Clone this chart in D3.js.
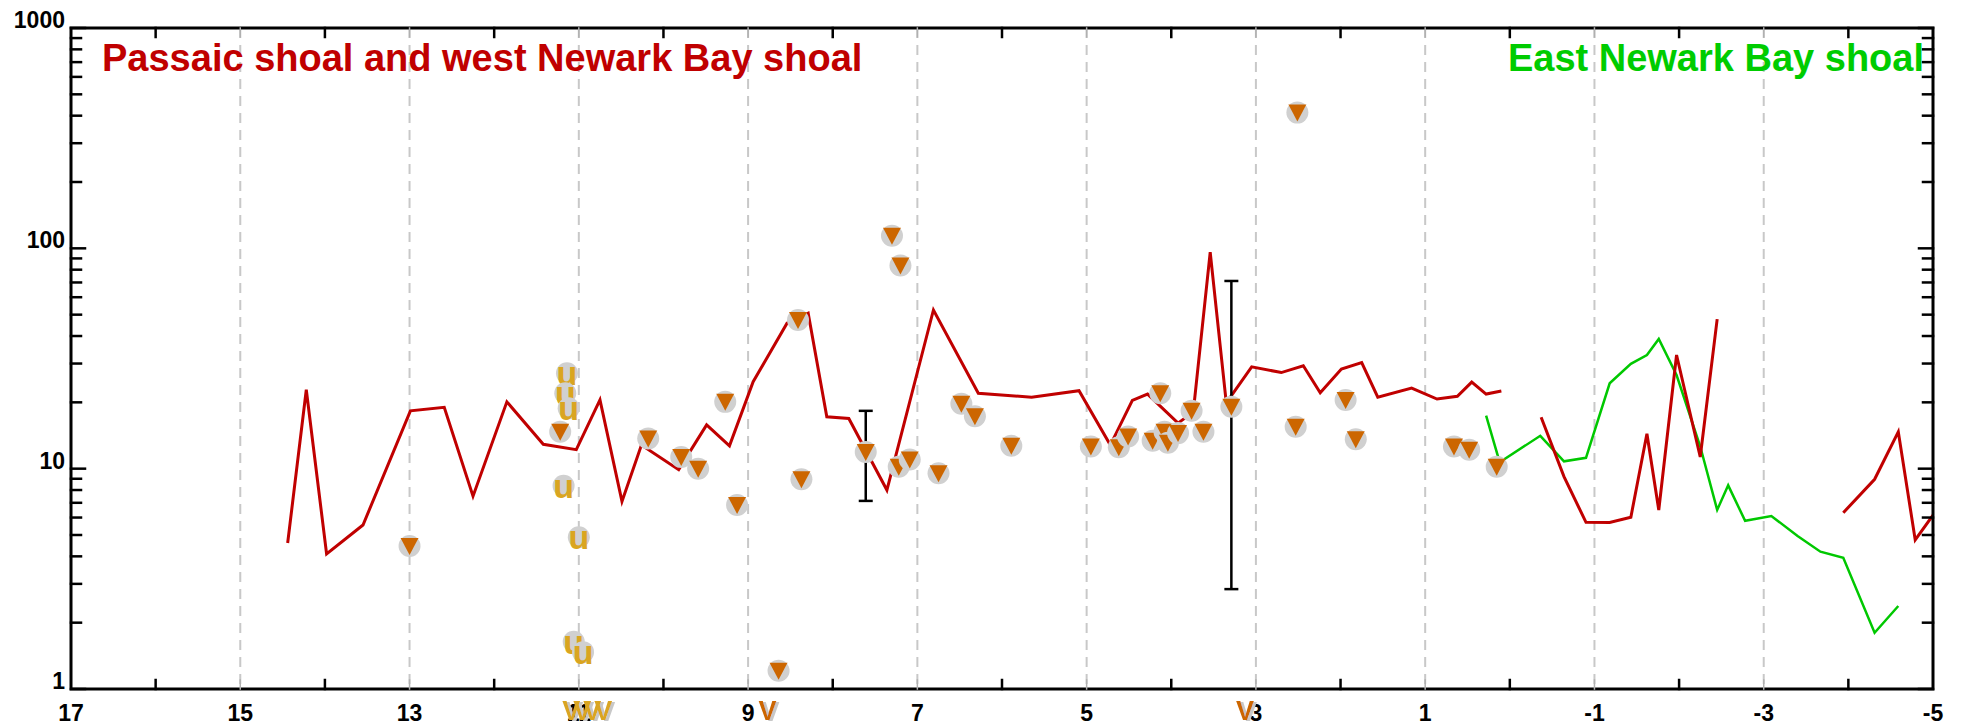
<!DOCTYPE html>
<html>
<head>
<meta charset="utf-8">
<script src="https://cdn.jsdelivr.net/npm/d3@7"></script>
<style>
  body { margin: 0; background: #fff; }
  text { font-family: "Liberation Sans", Arial, sans-serif; font-weight: bold; }
</style>
</head>
<body>
<svg id="chart" width="1962" height="728"></svg>
<script>
// River mile axis runs from 17 (upstream) to -5.
var X_TICK_LABELS = [17, 15, 13, 11, 9, 7, 5, 3, 1, -1, -3, -5];
var GRID_MILES    = [15, 13, 11, 9, 7, 5, 3, 1, -1, -3];
var Y_TICK_LABELS = [1, 10, 100, 1000];

// Passaic shoal and west Newark Bay shoal (null = gap in the line)
var redMiles  = [14.44, 14.22, 13.98, 13.55, 12.99, 12.59, 12.25, 11.85, 11.42, 11.03,
                 10.75, 10.49, 10.26, 9.82, 9.49, 9.22, 8.94, 8.54, 8.29, 8.07,
                 7.81, 7.36, 6.81, 6.28, 5.65, 5.09, 4.72, 4.46, 4.28, 3.92,
                 3.74, 3.54, 3.35, 3.05, 2.70, 2.44, 2.24, 1.99, 1.75, 1.56,
                 1.16, 0.86, 0.62, 0.45, 0.28, 0.10, -0.1,
                 -0.37, -0.64, -0.90, -1.18, -1.43, -1.62, -1.76, -1.97, -2.25, -2.45, -3.0,
                 -3.94, -4.31, -4.59, -4.79, -5.0];
var redValues = [4.6, 22.8, 4.1, 5.55, 18.3, 19.0, 7.5, 20.1, 12.9, 12.2,
                 20.5, 7.1, 12.8, 9.9, 15.8, 12.7, 24.8, 45.7, 50.8, 17.2,
                 16.9, 8.0, 52.5, 22.0, 21.1, 22.6, 12.8, 20.4, 21.8, 16.1,
                 18.1, 96, 19.9, 29.0, 27.3, 29.3, 22.1, 28.3, 30.3, 21.1,
                 23.2, 20.7, 21.3, 24.7, 21.8, 22.5, null,
                 17.1, 9.2, 5.71, 5.70, 6.02, 14.4, 6.49, 32.8, 11.3, 47.7, null,
                 6.31, 8.95, 14.7, 4.75, 6.15];

// East Newark Bay shoal
var greenMiles  = [0.28, 0.12, -0.36, -0.64, -0.90, -1.18, -1.43, -1.62, -1.76, -1.97,
                   -2.25, -2.45, -2.58, -2.78, -3.09, -3.40, -3.67, -3.94, -4.31, -4.59];
var greenValues = [17.4, 10.7, 14.1, 10.8, 11.2, 24.4, 29.9, 32.8, 38.8, 26.6,
                   12.6, 6.5, 8.4, 5.8, 6.1, 4.95, 4.2, 3.94, 1.80, 2.38];

// Detected samples (orange triangles)
var detectMiles  = [13.0, 11.22, 10.18, 9.79, 9.59, 9.27, 9.13, 8.64, 8.41, 8.37,
                    7.61, 7.30, 7.20, 7.22, 7.09, 6.75, 6.48, 6.32, 5.89, 4.95,
                    4.62, 4.51, 4.22, 4.13, 4.08, 4.04, 3.92, 3.76, 3.62, 3.29,
                    2.53, 2.51, 1.94, 1.82, 0.66, 0.48, 0.155];
var detectValues = [4.46, 14.7, 13.7, 11.3, 10.0, 20.1, 6.84, 1.21, 47.3, 8.95,
                    11.9, 114, 83.5, 10.2, 11.0, 9.53, 19.7, 17.3, 12.7, 12.6,
                    12.5, 14.0, 13.4, 22.0, 14.7, 13.1, 14.5, 18.3, 14.7, 19.1,
                    15.5, 413, 20.5, 13.6, 12.6, 12.2, 10.2];

// Error bars (low / high) on two of the detects
var errMiles = [7.61, 3.29];
var errLow   = [7.14, 2.84];
var errHigh  = [18.3, 71.1];

// Non-detects ("u")
var ndMiles  = [11.14, 11.16, 11.12, 11.18, 11.00, 11.06, 10.95];
var ndValues = [27.1, 22.0, 18.8, 8.37, 4.88, 1.64, 1.47];

// Values below the axis floor, flagged with a "V" under the axis
var lowNdMiles     = [11.09, 10.96, 10.84, 10.71];
var lowDetectMiles = [8.77, 3.13];

var RED   = "#c00000";
var GREEN = "#00c800";
var ORANGE = "#cc6600";
var GOLD  = "#daa520";
var MARK_GRAY = "#d0d0d0";

var W = 1962, H = 728;
var margin = { left: 71, right: 29, top: 28, bottom: 39 };

var svg = d3.select("#chart");

var x = d3.scaleLinear().domain([17, -5]).range([margin.left, W - margin.right]);
var y = d3.scaleLog().domain([1, 1000]).range([H - margin.bottom, margin.top]);

var x0 = x.range()[0], x1 = x.range()[1];
var y0 = y.range()[0], y1 = y.range()[1];

var defs = svg.append("defs");
defs.append("clipPath").attr("id", "plot-clip")
    .append("rect")
    .attr("x", x0).attr("y", y1)
    .attr("width", x1 - x0).attr("height", y0 - y1);

// Gray shadow behind the "V" flags
var shadow = defs.append("filter").attr("id", "flag-shadow")
                 .attr("x", "-20%").attr("y", "-20%")
                 .attr("width", "160%").attr("height", "160%");
shadow.append("feOffset").attr("in", "SourceAlpha").attr("dx", 3).attr("dy", 1).attr("result", "off");
shadow.append("feFlood").attr("flood-color", "#c8c8c8").attr("result", "col");
shadow.append("feComposite").attr("in", "col").attr("in2", "off").attr("operator", "in").attr("result", "sh");
var merge = shadow.append("feMerge");
merge.append("feMergeNode").attr("in", "sh");
merge.append("feMergeNode").attr("in", "SourceGraphic");

// Dashed grid lines at the labelled miles
svg.append("g")
   .selectAll("line")
   .data(GRID_MILES)
   .enter().append("line")
   .attr("x1", function (d) { return x(d); })
   .attr("x2", function (d) { return x(d); })
   .attr("y1", y1)
   .attr("y2", y0)
   .attr("stroke", "#c8c8c8")
   .attr("stroke-width", 2)
   .attr("stroke-dasharray", "10,7");

// Lines
function zip(miles, vals) {
  return miles.map(function (m, i) { return { mile: m, val: vals[i] }; });
}

var line = d3.line()
             .defined(function (d) { return d.val !== null; })
             .x(function (d) { return x(d.mile); })
             .y(function (d) { return y(d.val); });

var lines = svg.append("g").attr("clip-path", "url(#plot-clip)");

lines.append("path")
     .datum(zip(greenMiles, greenValues))
     .attr("d", line)
     .attr("fill", "none")
     .attr("stroke", GREEN)
     .attr("stroke-width", 2.5);

lines.append("path")
     .datum(zip(redMiles, redValues))
     .attr("d", line)
     .attr("fill", "none")
     .attr("stroke", RED)
     .attr("stroke-width", 3);

// Error bars
var errs = svg.append("g").attr("stroke", "#000").attr("stroke-width", 2.5);
errMiles.forEach(function (m, i) {
  var cx = x(m);
  errs.append("line").attr("x1", cx).attr("x2", cx)
      .attr("y1", y(errLow[i])).attr("y2", y(errHigh[i]));
  [errLow[i], errHigh[i]].forEach(function (v) {
    errs.append("line").attr("x1", cx - 7).attr("x2", cx + 7)
        .attr("y1", y(v)).attr("y2", y(v));
  });
});

// Detect markers: gray disc with an orange down triangle
var detects = svg.append("g")
                 .selectAll("g")
                 .data(zip(detectMiles, detectValues))
                 .enter().append("g")
                 .attr("transform", function (d) {
                   return "translate(" + x(d.mile) + "," + y(d.val) + ")";
                 });

detects.append("circle").attr("r", 11).attr("fill", MARK_GRAY);
detects.append("path").attr("d", "M-9,-8 L9,-8 L0,9 Z").attr("fill", ORANGE);

// Non-detect markers: gray disc with a gold "u"
var nds = svg.append("g")
             .selectAll("g")
             .data(zip(ndMiles, ndValues))
             .enter().append("g")
             .attr("transform", function (d) {
               return "translate(" + x(d.mile) + "," + y(d.val) + ")";
             });

nds.append("circle").attr("r", 11).attr("fill", MARK_GRAY);
nds.append("text")
   .attr("text-anchor", "middle")
   .attr("y", 12)
   .attr("font-size", 34)
   .attr("fill", GOLD)
   .text("u");

// Axes frame
var axisG = svg.append("g").attr("stroke", "#000").attr("stroke-linecap", "square");

axisG.append("rect")
     .attr("x", x0).attr("y", y1)
     .attr("width", x1 - x0).attr("height", y0 - y1)
     .attr("fill", "none")
     .attr("stroke-width", 3);

// x ticks every mile, inward from top and bottom
var xTicks = d3.range(16, -5, -1);
xTicks.forEach(function (m) {
  var odd = Math.abs(m) % 2 === 1;
  var col = odd ? "#b0b0b0" : "#000";
  var sw  = odd ? 1.5 : 2.5;
  axisG.append("line").attr("x1", x(m)).attr("x2", x(m))
       .attr("y1", y0).attr("y2", y0 - 9)
       .attr("stroke", col).attr("stroke-width", sw);
  axisG.append("line").attr("x1", x(m)).attr("x2", x(m))
       .attr("y1", y1).attr("y2", y1 + 9)
       .attr("stroke", col).attr("stroke-width", sw);
});

// y ticks: decades and the 2..9 minors, on both sides
var yMinor = [];
[1, 10, 100].forEach(function (dec) {
  for (var k = 2; k <= 9; ++k) { yMinor.push(k * dec); }
});

function yTick(v, len) {
  axisG.append("line").attr("x1", x0).attr("x2", x0 + len)
       .attr("y1", y(v)).attr("y2", y(v)).attr("stroke-width", 2.5);
  axisG.append("line").attr("x1", x1).attr("x2", x1 - len)
       .attr("y1", y(v)).attr("y2", y(v)).attr("stroke-width", 2.5);
}
Y_TICK_LABELS.forEach(function (v) { yTick(v, 14); });
yMinor.forEach(function (v) { yTick(v, 10); });

// Tick labels
svg.append("g")
   .selectAll("text")
   .data(X_TICK_LABELS)
   .enter().append("text")
   .attr("x", function (d) { return x(d); })
   .attr("y", 721)
   .attr("text-anchor", "middle")
   .attr("font-size", 23)
   .attr("fill", "#000")
   .text(function (d) { return d; });

svg.append("g")
   .selectAll("text")
   .data(Y_TICK_LABELS)
   .enter().append("text")
   .attr("x", x0 - 6)
   .attr("y", function (d) { return y(d); })
   .attr("text-anchor", "end")
   .attr("font-size", 23)
   .attr("fill", "#000")
   .text(function (d) { return d; });

// Below-floor flags under the axis: coloured "V" with a gray shadow
function lowFlags(miles, color) {
  svg.append("g")
     .attr("filter", "url(#flag-shadow)")
     .selectAll("text")
     .data(miles)
     .enter().append("text")
     .attr("x", function (d) { return x(d); })
     .attr("y", 720)
     .attr("text-anchor", "middle")
     .attr("font-size", 27)
     .attr("fill", color)
     .text("V");
}
lowFlags(lowNdMiles, GOLD);
lowFlags(lowDetectMiles, ORANGE);

// Shoal titles
svg.append("text")
   .attr("x", 102).attr("y", 71)
   .attr("font-size", 38)
   .attr("fill", RED)
   .text("Passaic shoal and west Newark Bay shoal");

svg.append("text")
   .attr("x", 1924).attr("y", 71)
   .attr("text-anchor", "end")
   .attr("font-size", 38)
   .attr("fill", "#00cc00")
   .text("East Newark Bay shoal");
</script>
</body>
</html>
